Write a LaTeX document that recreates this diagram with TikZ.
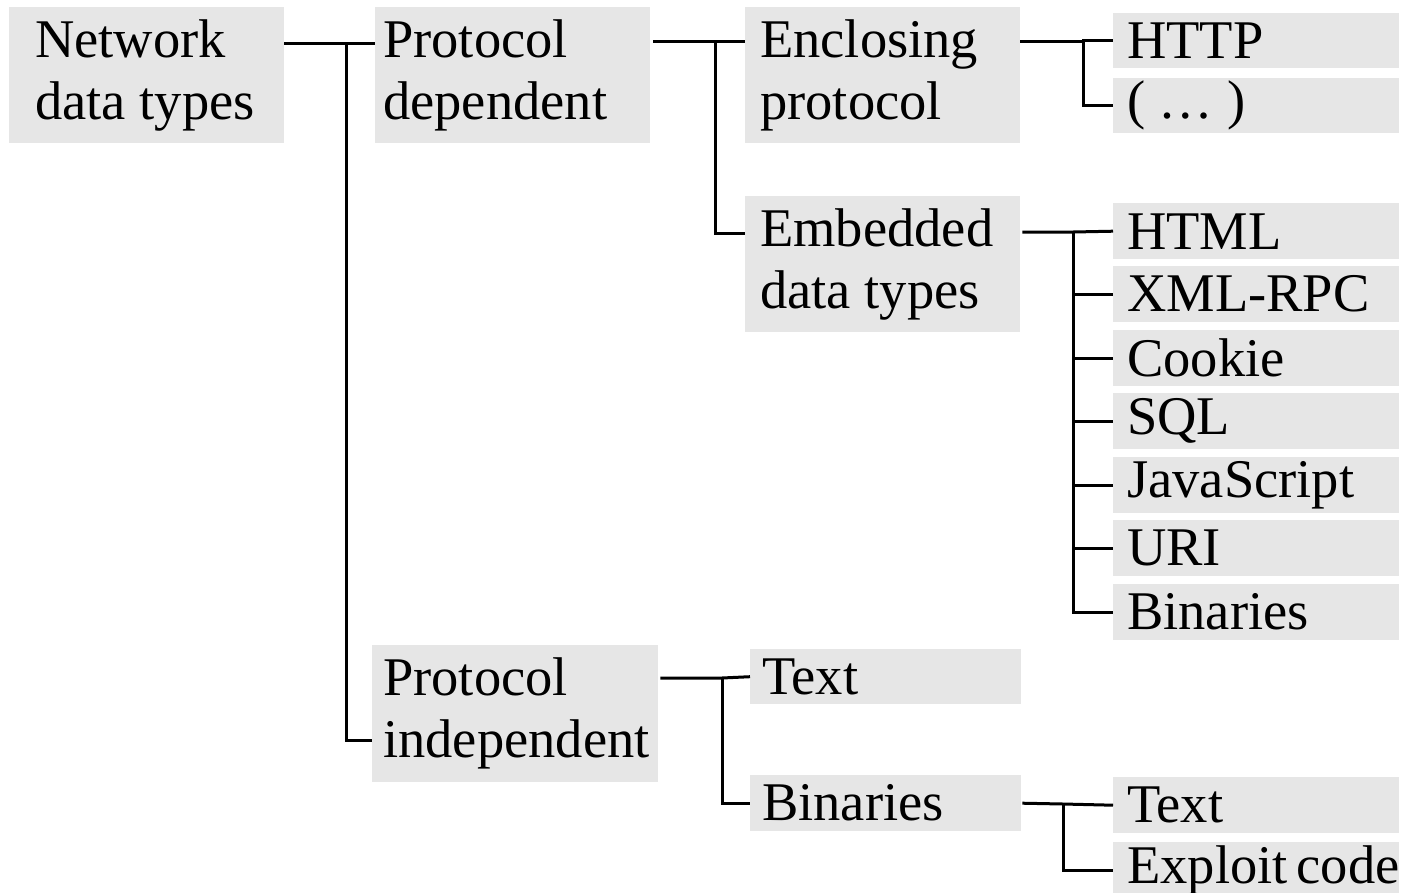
\documentclass[tikz,border=0pt]{standalone}
\usepackage{fontspec}
\setmainfont{Liberation Serif}
\definecolor{cellgray}{RGB}{230,230,230}
\begin{document}
\begin{tikzpicture}[x=1pt,y=-1pt,
  cell/.style={fill=cellgray, draw=none, anchor=north west, inner ysep=0pt,
    align=flush left, font=\fontsize{54.5}{62}\selectfont},
  big/.style={cell, minimum height=136pt},
  leaf/.style={cell, minimum height=56pt, text width=258pt, inner xsep=14pt},
  mid/.style={cell, minimum height=56pt, text width=247pt, inner xsep=12pt},
  link/.style={line width=3pt, black}]
\useasboundingbox (0,0) rectangle (1403,892);

% first and second level
\node[big, text width=223pt, inner xsep=26pt] (net) at (9,7) {Network\\data~types};
\node[big, text width=259pt, inner xsep=8pt] (pd) at (375,7) {Protocol\\dependent};
\node[big, text width=264pt, inner xsep=11pt, minimum height=137pt] (pi) at (372,645) {Protocol\\independent};

% protocol dependent branch
\node[big, text width=245pt, inner xsep=15pt] (enc) at (745,7) {Enclosing\\protocol};
\node[big, text width=245pt, inner xsep=15pt] (emb) at (745,196) {Embedded\\data~types};

\node[leaf, minimum height=55pt] (http) at (1113,13) {HTTP};
\node[leaf, minimum height=55pt] (etc) at (1113,78) {( \dots\ )};

\node[leaf] (html) at (1113,203) {HTML};
\node[leaf] (xml) at (1113,266) {XML-RPC};
\node[leaf] (cookie) at (1113,330) {Cookie};
\node[leaf] (sql) at (1113,393) {SQL};
\node[leaf] (js) at (1113,457) {JavaScript};
\node[leaf] (uri) at (1113,520) {URI};
\node[leaf] (ebin) at (1113,584) {Binaries};

% protocol independent branch
\node[mid, minimum height=55pt] (itext) at (750,649) {Text};
\node[mid] (ibin) at (750,775) {Binaries};
\node[leaf] (btext) at (1113,777) {Text};
\node[leaf] (exploit) at (1113,842) {Exploit~code};

% junction points of the tree lines
\coordinate (j1) at (346,43);
\coordinate (j2) at (715,41);
\coordinate (j3) at (1083,41);
\coordinate (j4) at (1073,232);
\coordinate (j5) at (722,678);
\coordinate (j6) at (1063,804);

% connectors
\draw[link] ([yshift=-36pt]net.north east) -- ([yshift=-36pt]pd.north west);
\draw[link] (j1) |- ([yshift=-95pt]pi.north west);

\draw[link] ([xshift=3pt,yshift=-34pt]pd.north east) -- ([yshift=-34pt]enc.north west);
\draw[link] (j2) |- ([yshift=-37pt]emb.north west);

\draw[link] ([yshift=-34pt]enc.north east) -- (j3) |- (http.west);
\draw[link] (j3) |- (etc.west);

\draw[link] ([xshift=2pt,yshift=-36pt]emb.north east) -- (j4) -- (html.west);
\foreach \n in {xml,cookie,sql,js,uri,ebin}
  \draw[link] (j4) |- (\n.west);

\draw[link] ([xshift=2pt,yshift=-33pt]pi.north east) -- (j5) -- (itext.west);
\draw[link] (j5) |- (ibin.west);

\draw[link] ([xshift=1pt]ibin.east) -- (j6) -- (btext.west);
\draw[link] (j6) |- (exploit.west);
\end{tikzpicture}
\end{document}
